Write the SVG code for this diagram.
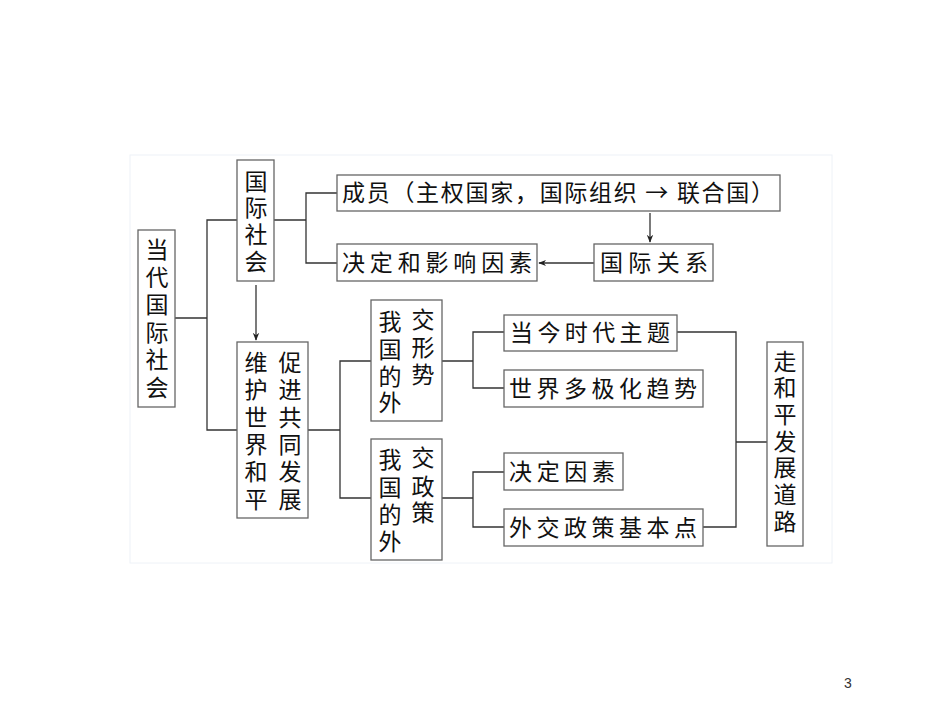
<svg xmlns="http://www.w3.org/2000/svg" width="950" height="713" viewBox="0 0 950 713">
<style>
.b{fill:#fff;stroke:#666;stroke-width:1.3}
.t{font-family:"Noto Sans CJK SC","Liberation Serif",serif;font-size:23px;fill:#111}
.v{font-family:"Noto Sans CJK SC","Liberation Serif",serif;font-size:23px;fill:#111;text-anchor:middle}
.c{fill:none;stroke:#333;stroke-width:1.3}
</style>
<defs><marker id="a" viewBox="0 0 10 10" refX="9" refY="5" markerWidth="8" markerHeight="8" orient="auto" markerUnits="userSpaceOnUse"><path d="M0,1 L10,5 L0,9 L3,5 z" fill="#222"/></marker></defs>
<rect width="950" height="713" fill="#fff"/>
<rect x="130" y="155" width="702" height="408" fill="#fff" stroke="#eef2f7"/>
<g id="connectors" class="c">
<path d="M175,318H207M237,220H207V430H237"/>
<path d="M274,220H306M337,193H306V263H337"/>
<path d="M256,285V340" marker-end="url(#a)"/>
<path d="M650,213V242" marker-end="url(#a)"/>
<path d="M594,263H539" marker-end="url(#a)"/>
<path d="M308,430H340M371,361H340V498H371"/>
<path d="M442,361H473M504,332H473V388H504"/>
<path d="M442,498H473M504,472H473V527H504"/>
<path d="M677,332H736V527H703M736,442H767"/>
</g>
<g id="n1"><rect class="b" x="138" y="230" width="37" height="177"/>
<text class="v" x="157"><tspan x="157" y="258">当</tspan><tspan x="157" y="286">代</tspan><tspan x="157" y="313">国</tspan><tspan x="157" y="341">际</tspan><tspan x="157" y="368">社</tspan><tspan x="157" y="396">会</tspan></text></g>
<g id="n2"><rect class="b" x="237" y="160" width="37" height="121"/>
<text class="v"><tspan x="256" y="190">国</tspan><tspan x="256" y="216">际</tspan><tspan x="256" y="243">社</tspan><tspan x="256" y="270">会</tspan></text></g>
<g id="n3"><rect class="b" x="237" y="342" width="71" height="176"/>
<text class="v"><tspan x="256" y="371">维</tspan><tspan x="256" y="398">护</tspan><tspan x="256" y="426">世</tspan><tspan x="256" y="453">界</tspan><tspan x="256" y="480">和</tspan><tspan x="256" y="508">平</tspan></text>
<text class="v"><tspan x="290" y="371">促</tspan><tspan x="290" y="398">进</tspan><tspan x="290" y="426">共</tspan><tspan x="290" y="453">同</tspan><tspan x="290" y="480">发</tspan><tspan x="290" y="508">展</tspan></text></g>
<g id="n4"><rect class="b" x="371" y="300" width="71" height="121"/>
<text class="v"><tspan x="390" y="330">我</tspan><tspan x="390" y="358">国</tspan><tspan x="390" y="385">的</tspan><tspan x="390" y="411">外</tspan></text>
<text class="v"><tspan x="423" y="328">交</tspan><tspan x="423" y="356">形</tspan><tspan x="423" y="383">势</tspan></text></g>
<g id="n5"><rect class="b" x="371" y="439" width="71" height="121"/>
<text class="v"><tspan x="390" y="468">我</tspan><tspan x="390" y="496">国</tspan><tspan x="390" y="523">的</tspan><tspan x="390" y="550">外</tspan></text>
<text class="v"><tspan x="423" y="466">交</tspan><tspan x="423" y="495">政</tspan><tspan x="423" y="521">策</tspan></text></g>
<g id="n6"><rect class="b" x="337" y="175" width="443" height="36"/>
<text class="t" x="342" y="201" textLength="432" lengthAdjust="spacing">成员（主权国家，国际组织 → 联合国）</text></g>
<g id="n7"><rect class="b" x="337" y="244" width="200" height="37"/>
<text class="t" x="342" y="271" textLength="190" lengthAdjust="spacing">决定和影响因素</text></g>
<g id="n8"><rect class="b" x="594" y="244" width="119" height="37"/>
<text class="t" x="600" y="271" textLength="108" lengthAdjust="spacing">国际关系</text></g>
<g id="n9"><rect class="b" x="504" y="315" width="173" height="36"/>
<text class="t" x="510" y="341" textLength="160" lengthAdjust="spacing">当今时代主题</text></g>
<g id="n10"><rect class="b" x="504" y="370" width="199" height="37"/>
<text class="t" x="509" y="397" textLength="188" lengthAdjust="spacing">世界多极化趋势</text></g>
<g id="n11"><rect class="b" x="504" y="453" width="119" height="37"/>
<text class="t" x="509" y="480" textLength="106" lengthAdjust="spacing">决定因素</text></g>
<g id="n12"><rect class="b" x="504" y="509" width="199" height="37"/>
<text class="t" x="509" y="536" textLength="188" lengthAdjust="spacing">外交政策基本点</text></g>
<g id="n13"><rect class="b" x="767" y="342" width="36" height="204"/>
<text class="v"><tspan x="785" y="370">走</tspan><tspan x="785" y="396">和</tspan><tspan x="785" y="423">平</tspan><tspan x="785" y="450">发</tspan><tspan x="785" y="476">展</tspan><tspan x="785" y="503">道</tspan><tspan x="785" y="530">路</tspan></text></g>
<text x="848" y="688" font-family="Liberation Sans,sans-serif" font-size="14" fill="#333" text-anchor="middle">3</text>
</svg>
